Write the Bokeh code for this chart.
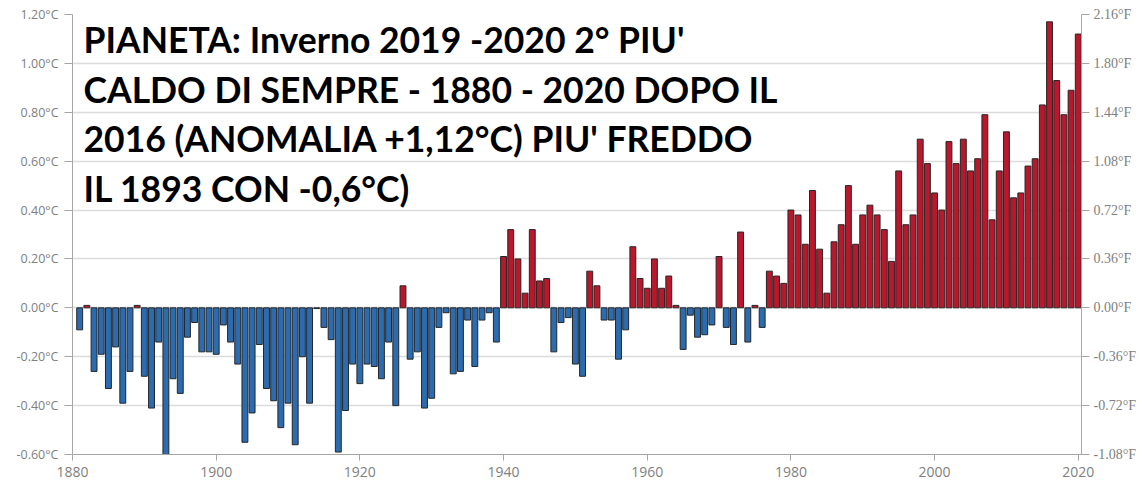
from bokeh.plotting import figure
from bokeh.models import Range1d, LinearAxis, FixedTicker, PrintfTickFormatter, ColumnDataSource
from bokeh.embed import file_html
from bokeh.resources import INLINE
from bokeh.core.properties import value

# ---------------- data ----------------
years = list(range(1881, 2021))
anomaly_c = [
    -0.09, 0.01, -0.26, -0.19, -0.33, -0.16, -0.39, -0.26, 0.01, -0.28,   # 1881-1890
    -0.41, -0.14, -0.60, -0.29, -0.35, -0.12, -0.06, -0.18, -0.18, -0.19,  # 1891-1900
    -0.07, -0.14, -0.23, -0.55, -0.43, -0.15, -0.33, -0.38, -0.49, -0.39,  # 1901-1910
    -0.56, -0.20, -0.39, -0.003, -0.08, -0.13, -0.59, -0.42, -0.23, -0.31, # 1911-1920
    -0.23, -0.24, -0.29, -0.14, -0.40, 0.09, -0.21, -0.18, -0.41, -0.37,   # 1921-1930
    -0.08, -0.02, -0.27, -0.26, -0.05, -0.24, -0.05, -0.02, -0.14, 0.21,   # 1931-1940
    0.32, 0.20, 0.06, 0.32, 0.11, 0.12, -0.18, -0.06, -0.04, -0.23,        # 1941-1950
    -0.28, 0.15, 0.09, -0.05, -0.05, -0.21, -0.09, 0.25, 0.12, 0.08,       # 1951-1960
    0.20, 0.08, 0.13, 0.01, -0.17, -0.03, -0.12, -0.11, -0.07, 0.21,       # 1961-1970
    -0.08, -0.15, 0.31, -0.14, 0.01, -0.08, 0.15, 0.13, 0.10, 0.40,        # 1971-1980
    0.38, 0.26, 0.48, 0.24, 0.06, 0.27, 0.34, 0.50, 0.26, 0.38,            # 1981-1990
    0.42, 0.38, 0.32, 0.19, 0.56, 0.34, 0.38, 0.69, 0.59, 0.47,            # 1991-2000
    0.40, 0.68, 0.59, 0.69, 0.56, 0.61, 0.79, 0.36, 0.56, 0.72,            # 2001-2010
    0.45, 0.47, 0.58, 0.61, 0.83, 1.17, 0.93, 0.79, 0.89, 1.12,            # 2011-2020
]
y_ticks_c = [-0.6, -0.4, -0.2, 0.0, 0.2, 0.4, 0.6, 0.8, 1.0, 1.2]
y_ticks_f = [-1.08, -0.72, -0.36, 0.0, 0.36, 0.72, 1.08, 1.44, 1.80, 2.16]
x_ticks = [1880, 1900, 1920, 1940, 1960, 1980, 2000, 2020]
title_lines = [
    "PIANETA: Inverno 2019 -2020 2° PIU'",
    "CALDO DI SEMPRE - 1880 - 2020 DOPO IL",
    "2016 (ANOMALIA +1,12°C) PIU' FREDDO",
    "IL 1893 CON -0,6°C)",
]

RED = "#b8172c"
BLUE = "#2b6cb0"
colors = [RED if v >= 0 else BLUE for v in anomaly_c]
src = ColumnDataSource(dict(x=years, top=anomaly_c, color=colors))

# ---------------- figure ----------------
p = figure(width=1142, height=486, output_backend="svg", toolbar_location=None,
           x_range=Range1d(1880, 2020.45), y_range=Range1d(-0.6, 1.2),
           min_border_left=72, min_border_right=61, min_border_top=14, min_border_bottom=32)
p.outline_line_color = None
p.background_fill_color = "white"

p.vbar(x="x", top="top", bottom=0, width=0.82, fill_color="color",
       line_color="#262626", line_width=1, source=src)

AX = "#a6a6a6"
# left axis
ya = p.yaxis[0]
ya.ticker = FixedTicker(ticks=y_ticks_c)
ya.formatter = PrintfTickFormatter(format="%.2f°C")
ya.axis_line_color = AX
ya.major_tick_line_color = AX
ya.major_tick_out = 8
ya.major_tick_in = 0
ya.minor_tick_line_color = None
ya.major_label_text_color = "#808080"
ya.major_label_text_font = "Open Sans"
ya.major_label_text_font_size = "12.5px"
ya.major_label_standoff = 6

# bottom axis
xa = p.xaxis[0]
xa.ticker = FixedTicker(ticks=x_ticks)
xa.formatter = PrintfTickFormatter(format="%d")
xa.axis_line_color = AX
xa.major_tick_line_color = AX
xa.major_tick_out = 6
xa.major_tick_in = 0
xa.minor_tick_line_color = None
xa.major_label_text_color = "#808080"
xa.major_label_text_font = "Open Sans"
xa.major_label_text_font_size = "14px"
xa.major_label_standoff = 6

# right axis (°F)
p.extra_y_ranges = {"f": Range1d(-1.08, 2.16)}
ra = LinearAxis(y_range_name="f")
ra.ticker = FixedTicker(ticks=y_ticks_f)
ra.formatter = PrintfTickFormatter(format="%.2f°F")
ra.axis_line_color = AX
ra.major_tick_line_color = AX
ra.major_tick_out = 8
ra.major_tick_in = 0
ra.minor_tick_line_color = None
ra.major_label_text_color = "#808080"
ra.major_label_text_font = "Liberation Serif"
ra.major_label_text_font_size = "14px"
ra.major_label_standoff = 4
p.add_layout(ra, "right")

p.xgrid.grid_line_color = None
p.ygrid.ticker = FixedTicker(ticks=y_ticks_c)
p.ygrid.grid_line_color = "#dcdcdc"
p.ygrid.grid_line_width = 1.5

# ---------------- title text ----------------
px_per_c = 440 / 1.8
px_per_yr = 1006 / 140
def ypx(py):  # image-pixel row -> data value (frame top at row 14)
    return 1.2 - (py - 14) / px_per_c
text_x = 1880 + (83 - 72) / px_per_yr
baselines = [ypx(39 + 49.5 * i) for i in range(len(title_lines))]
p.text(x=[text_x] * len(title_lines), y=baselines, text=title_lines,
       text_font=value("Lato"), text_font_style="bold", text_font_size="35.5px",
       text_color="black", text_baseline="alphabetic", text_align="left")

open("out.html", "w").write(file_html(p, INLINE))
